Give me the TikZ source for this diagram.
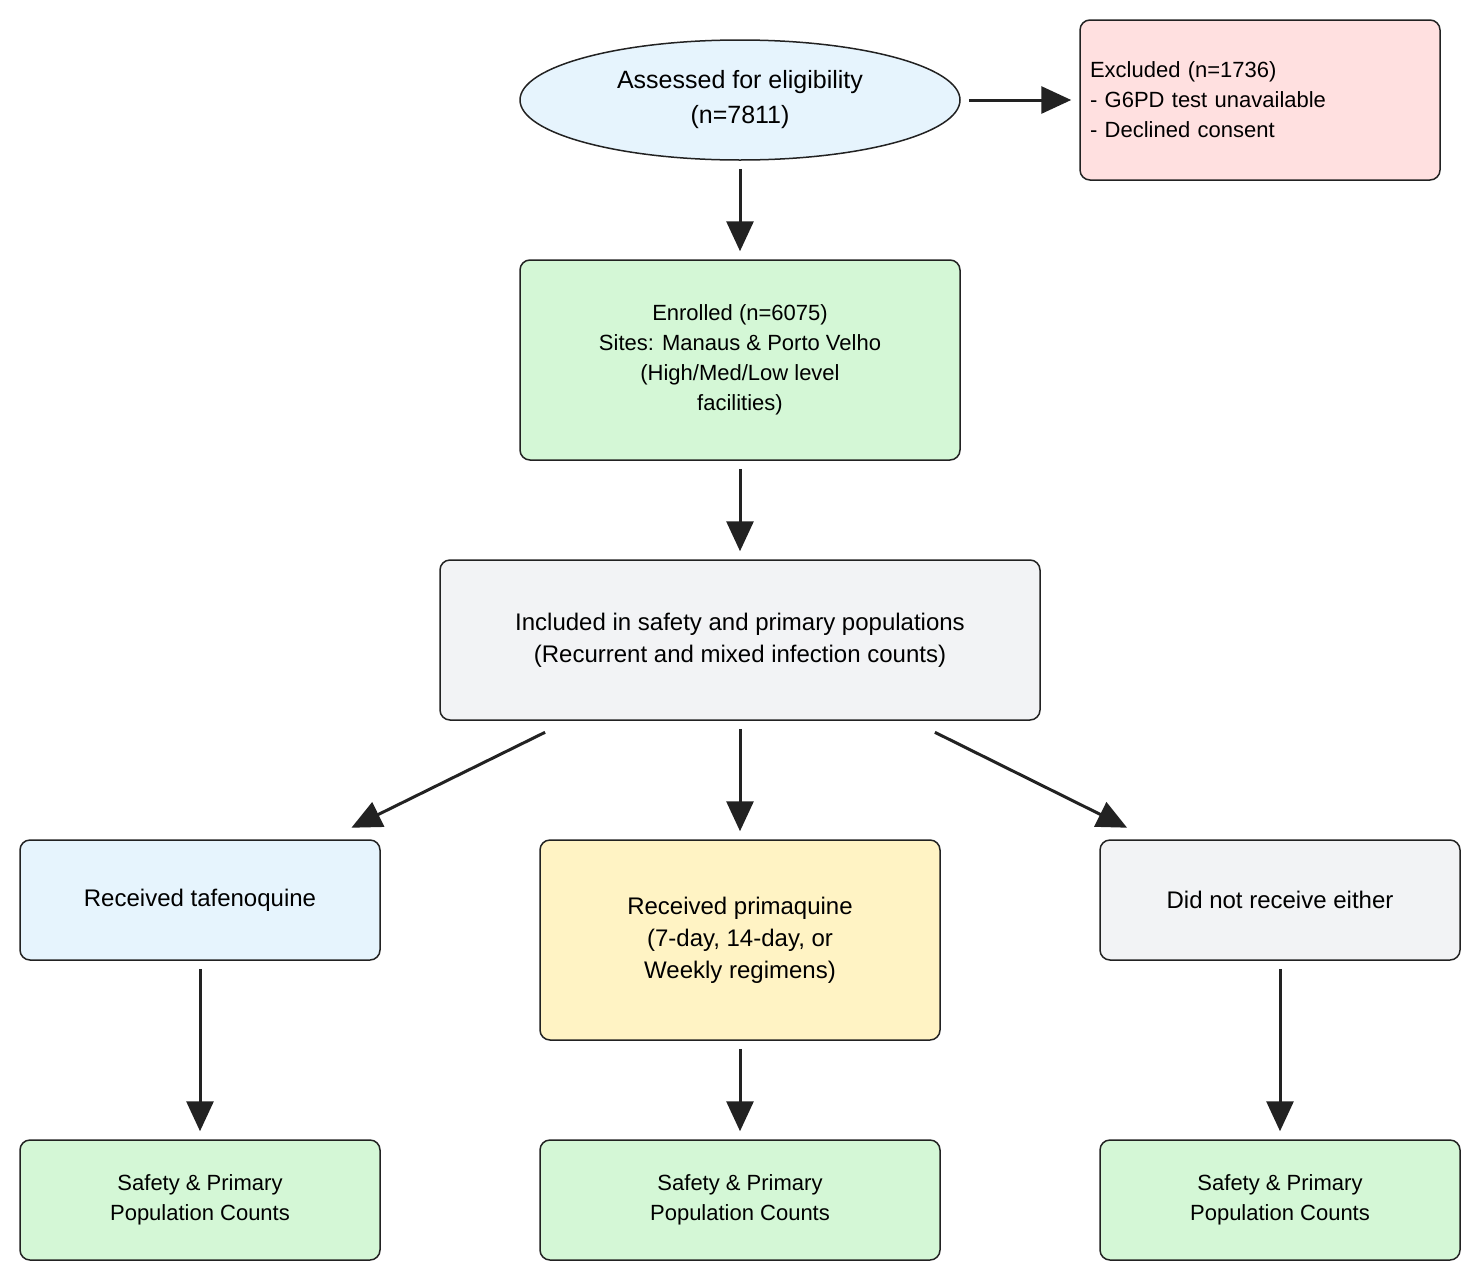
\documentclass[tikz,border=0pt]{standalone}
\usepackage{fontspec}
\setmainfont{Liberation Sans}
\usetikzlibrary{shapes.geometric,arrows.meta}
\definecolor{bl}{HTML}{E6F4FD}
\definecolor{rd}{HTML}{FFE0E0}
\definecolor{gr}{HTML}{D4F7D6}
\definecolor{gy}{HTML}{F2F3F5}
\definecolor{yl}{HTML}{FFF3C4}
\definecolor{ln}{HTML}{222222}
\begin{document}
\begin{tikzpicture}[x=1pt,y=-1pt,
 box/.style={draw=ln,line width=1.5pt,rounded corners=10pt,align=center,inner sep=0pt,font=\fontsize{22}{30}\selectfont},
 arr/.style={ln,line width=3pt,-{Triangle[length=30pt,width=27pt]},shorten >=8pt,shorten <=8pt}]
\useasboundingbox (0,0) rectangle (1480,1280);
\node[ellipse,draw=ln,line width=1.5pt,fill=bl,minimum width=440pt,minimum height=120pt,align=center,inner sep=0pt,font=\fontsize{25}{35}\selectfont] (a) at (740,100) {Assessed for eligibility\\(n=7811)};
\node[box,fill=rd,minimum width=360pt,minimum height=160pt,align=left,text width=340pt,font=\fontsize{22}{30}\selectfont] (x) at (1260,100) {Excluded (n=1736)\\- G6PD test unavailable\\- Declined consent};
\node[box,fill=gr,minimum width=440pt,minimum height=200pt] (e) at (740,360) {Enrolled (n=6075)\\Sites: Manaus \& Porto Velho\\(High/Med/Low level\\facilities)};
\node[box,fill=gy,minimum width=600pt,minimum height=160pt,font=\fontsize{24}{32}\selectfont] (i) at (740,640) {Included in safety and primary populations\\(Recurrent and mixed infection counts)};
\node[box,fill=bl,minimum width=360pt,minimum height=120pt,font=\fontsize{24}{32}\selectfont] (t) at (200,900) {Received tafenoquine};
\node[box,fill=yl,minimum width=400pt,minimum height=200pt,font=\fontsize{24}{32}\selectfont] (p) at (740,940) {Received primaquine\\(7-day, 14-day, or\\Weekly regimens)};
\node[box,fill=gy,minimum width=360pt,minimum height=120pt,font=\fontsize{24}{32}\selectfont] (d) at (1280,900) {Did not receive either};
\node[box,fill=gr,minimum width=360pt,minimum height=120pt] (s1) at (200,1200) {Safety \& Primary\\Population Counts};
\node[box,fill=gr,minimum width=400pt,minimum height=120pt] (s2) at (740,1200) {Safety \& Primary\\Population Counts};
\node[box,fill=gr,minimum width=360pt,minimum height=120pt] (s3) at (1280,1200) {Safety \& Primary\\Population Counts};
\draw[arr] (a.east) -- (x.west);
\draw[arr] (a.south) -- (e.north);
\draw[arr] (e.south) -- (i.north);
\draw[arr] ([xshift=113pt,yshift=-8pt]i.south west) -- ([xshift=325pt,yshift=8pt]t.north west);
\draw[arr] (i.south) -- (p.north);
\draw[arr] ([xshift=-113pt,yshift=-8pt]i.south east) -- ([xshift=35pt,yshift=8pt]d.north west);
\draw[arr] (t.south) -- (s1.north);
\draw[arr] (p.south) -- (s2.north);
\draw[arr] (d.south) -- (s3.north);
\end{tikzpicture}
\end{document}
